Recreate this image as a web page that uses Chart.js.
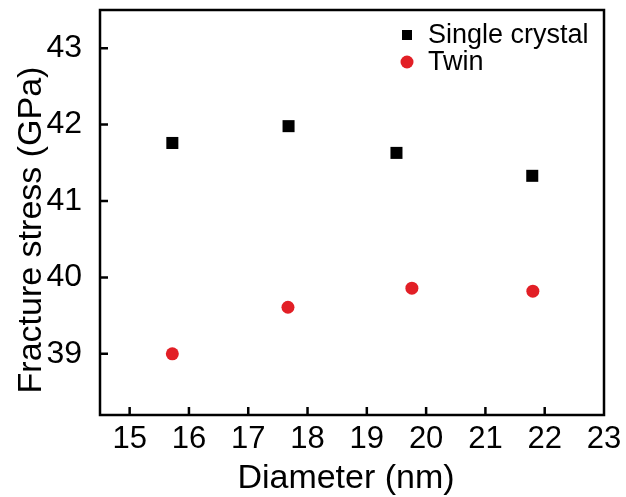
<!DOCTYPE html>
<html>
<head>
<meta charset="utf-8">
<script src="https://cdn.jsdelivr.net/npm/chart.js@4.4.1/dist/chart.umd.min.js"></script>
<style>
  html, body { margin: 0; padding: 0; background: #fff; }
  #wrap { width: 626px; height: 497px; }
</style>
</head>
<body>
<div id="wrap"><canvas id="fractureChart"></canvas></div>
<script>
// values
var singleDiameter = [15.72, 17.68, 19.5, 21.79];
var singleStress = [41.76, 41.98, 41.63, 41.33];
var twinDiameter = [15.72, 17.67, 19.76, 21.8];
var twinStress = [39.0, 39.61, 39.86, 39.82];
var xTicks = [15, 16, 17, 18, 19, 20, 21, 22, 23];
var yTicks = [39, 40, 41, 42, 43];

var FONT = "'Liberation Sans', Arial, sans-serif";

function toPoints(xs, ys) {
  return xs.map(function (x, i) { return { x: x, y: ys[i] }; });
}

// frame, inward ticks, titles and legend
var framePlugin = {
  id: 'frame',
  afterDraw: function (chart) {
    var ctx = chart.ctx;
    var a = chart.chartArea;
    var xs = chart.scales.x, ys = chart.scales.y;
    ctx.save();
    ctx.strokeStyle = '#000';
    ctx.lineWidth = 2.5;
    ctx.strokeRect(a.left, a.top, a.right - a.left, a.bottom - a.top);

    ctx.beginPath();
    xTicks.forEach(function (v) {
      var px = xs.getPixelForValue(v);
      if (px > a.left + 2 && px < a.right - 2) {
        ctx.moveTo(px, a.bottom);
        ctx.lineTo(px, a.bottom - 8);
      }
    });
    yTicks.forEach(function (v) {
      var py = ys.getPixelForValue(v);
      if (py > a.top + 2 && py < a.bottom - 2) {
        ctx.moveTo(a.left, py);
        ctx.lineTo(a.left + 8, py);
      }
    });
    ctx.stroke();

    // axis titles
    ctx.fillStyle = '#000';
    ctx.font = '34px ' + FONT;
    ctx.textAlign = 'center';
    ctx.textBaseline = 'alphabetic';
    ctx.fillText('Diameter (nm)', 346, 488);
    ctx.save();
    ctx.translate(41, 230);
    ctx.rotate(-Math.PI / 2);
    ctx.fillText('Fracture stress (GPa)', 0, 0);
    ctx.restore();

    // legend
    var lx = a.right - 197, ly = a.top + 25;
    ctx.font = '27px ' + FONT;
    ctx.textAlign = 'left';
    ctx.textBaseline = 'middle';
    chart.data.datasets.forEach(function (ds, i) {
      var cy = ly + i * 27;
      ctx.fillStyle = ds.backgroundColor;
      if (ds.pointStyle === 'rect') {
        ctx.fillRect(lx - 5, cy - 5, 10, 10);
      } else {
        ctx.beginPath();
        ctx.arc(lx, cy, 6.5, 0, Math.PI * 2);
        ctx.fill();
      }
      ctx.fillStyle = '#000';
      ctx.fillText(ds.label, lx + 21, cy + 1);
    });
    ctx.restore();
  }
};

new Chart(document.getElementById('fractureChart'), {
  type: 'scatter',
  data: {
    datasets: [{
      label: 'Single crystal',
      data: toPoints(singleDiameter, singleStress),
      pointStyle: 'rect',
      pointRadius: 8.5,
      backgroundColor: '#000',
      borderColor: '#000',
      borderWidth: 0
    }, {
      label: 'Twin',
      data: toPoints(twinDiameter, twinStress),
      pointStyle: 'circle',
      pointRadius: 6.5,
      backgroundColor: 'rgb(226, 31, 38)',
      borderColor: 'rgb(226, 31, 38)',
      borderWidth: 0
    }]
  },
  options: {
    responsive: true,
    maintainAspectRatio: false,
    animation: false,
    layout: { padding: { top: 10, right: 22, left: 0, bottom: 0 } },
    plugins: {
      legend: { display: false },
      tooltip: { enabled: false }
    },
    scales: {
      x: {
        type: 'linear',
        min: 14.5,
        max: 23,
        grid: { display: false },
        border: { display: false },
        afterBuildTicks: function (s) { s.ticks = xTicks.map(function (v) { return { value: v }; }); },
        afterFit: function (s) { s.height = 82; s.paddingLeft = 0; s.paddingRight = 0; },
        ticks: { color: '#000', font: { family: FONT, size: 31 }, padding: -2, maxRotation: 0, autoSkip: false }
      },
      y: {
        type: 'linear',
        min: 38.2,
        max: 43.5,
        grid: { display: false },
        border: { display: false },
        afterBuildTicks: function (s) { s.ticks = yTicks.map(function (v) { return { value: v }; }); },
        afterFit: function (s) { s.width = 100; s.paddingTop = 0; s.paddingBottom = 0; },
        ticks: { color: '#000', font: { family: FONT, size: 32 }, padding: 10, autoSkip: false }
      }
    }
  },
  plugins: [framePlugin]
});
</script>
</body>
</html>
